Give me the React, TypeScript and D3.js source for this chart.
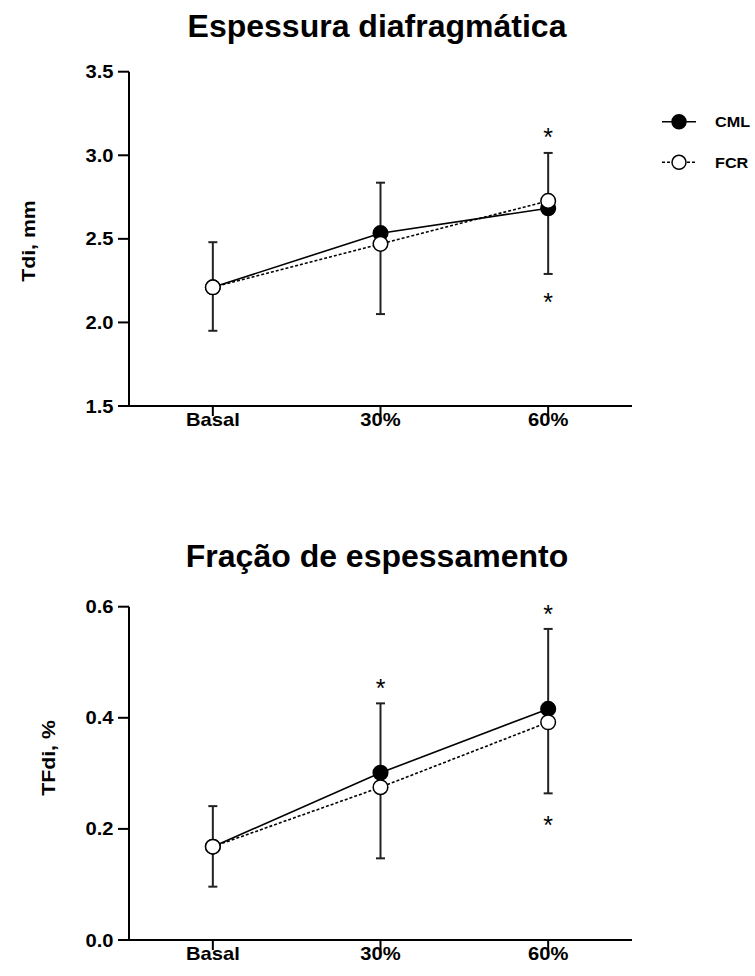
import React from "react";
import * as d3 from "d3";

const categories = ["Basal", "30%", "60%"];

// Top panel: Espessura diafragmática (Tdi, mm)
const tdiCML = [2.21, 2.534, 2.683];
const tdiFCR = [2.21, 2.47, 2.727];
const tdiCMLUpper = [2.48, 2.836, 3.014];
const tdiFCRLower = [1.95, 2.05, 2.29];
const tdiTicks = [1.5, 2.0, 2.5, 3.0, 3.5];
const tdiStars = [
  { cat: "60%", value: 3.141 },
  { cat: "60%", value: 2.151 },
];

// Bottom panel: Fração de espessamento (TFdi, %)
const tfCML = [0.168, 0.301, 0.416];
const tfFCR = [0.168, 0.275, 0.392];
const tfCMLUpper = [0.241, 0.426, 0.56];
const tfFCRLower = [0.096, 0.147, 0.264];
const tfTicks = [0.0, 0.2, 0.4, 0.6];
const tfStars = [
  { cat: "30%", value: 0.463 },
  { cat: "60%", value: 0.597 },
  { cat: "60%", value: 0.217 },
];

const seriesNames = ["CML", "FCR"];

const FONT = "'Liberation Sans', Arial, Helvetica, sans-serif";
const SX = 1.12; // horizontal stretch of tick labels

type PanelProps = {
  title: string;
  titleY: number;
  yLabel: string;
  yLabelX: number;
  yLabelY: number;
  domain: [number, number];
  yRange: [number, number];
  ticks: number[];
  tickFmt: (v: number) => string;
  cml: number[];
  fcr: number[];
  cmlUpper: number[];
  fcrLower: number[];
  stars: { cat: string; value: number }[];
};

function Panel(p: PanelProps) {
  const x = d3.scalePoint<string>().domain(categories).range([129, 632]).padding(0.5);
  const y = d3.scaleLinear().domain(p.domain).range(p.yRange);
  const x0 = 129;
  const x1 = 632;
  const yBottom = p.yRange[0];
  const yTop = p.yRange[1];
  const line = d3
    .line<number>()
    .x((_, i) => x(categories[i]) as number)
    .y((d) => y(d));
  const r = 7.3;
  const starFs = 25;
  return (
    <g>
      <text
        x={377}
        y={p.titleY}
        textAnchor="middle"
        fontFamily={FONT}
        fontWeight="bold"
        fontSize={32}
      >
        {p.title}
      </text>
      <text
        transform={`translate(${p.yLabelX},${p.yLabelY}) rotate(-90) scale(${SX},1)`}
        textAnchor="middle"
        fontFamily={FONT}
        fontWeight="bold"
        fontSize={19}
      >
        {p.yLabel}
      </text>
      {/* axes */}
      <line x1={x0} x2={x0} y1={yTop} y2={yBottom + 1} stroke="#000" strokeWidth={2} />
      <line x1={x0 - 1} x2={x1} y1={yBottom} y2={yBottom} stroke="#000" strokeWidth={2} />
      {p.ticks.map((t) => (
        <g key={t}>
          <line x1={x0 - 11} x2={x0} y1={y(t)} y2={y(t)} stroke="#000" strokeWidth={2} />
          <text
            transform={`translate(113.5,${y(t) + 6.5}) scale(${SX},1)`}
            textAnchor="end"
            fontFamily={FONT}
            fontWeight="bold"
            fontSize={18}
          >
            {p.tickFmt(t)}
          </text>
        </g>
      ))}
      {categories.map((c) => (
        <g key={c}>
          <line
            x1={x(c)}
            x2={x(c)}
            y1={yBottom}
            y2={yBottom + 10}
            stroke="#000"
            strokeWidth={2}
          />
          <text
            transform={`translate(${x(c)},${yBottom + 20}) scale(${SX},1)`}
            textAnchor="middle"
            fontFamily={FONT}
            fontWeight="bold"
            fontSize={18}
          >
            {c}
          </text>
        </g>
      ))}
      {/* lines */}
      <path d={line(p.cml) || ""} fill="none" stroke="#000" strokeWidth={1.6} />
      <path
        d={line(p.fcr) || ""}
        fill="none"
        stroke="#000"
        strokeWidth={1.6}
        strokeDasharray="3,2"
      />
      {/* error bars */}
      {categories.map((c, i) => {
        const cx = x(c) as number;
        const up = y(p.cmlUpper[i]);
        const lo = y(p.fcrLower[i]);
        return (
          <g key={"e" + c} stroke="#222" strokeWidth={2}>
            <line x1={cx} x2={cx} y1={up} y2={y(p.cml[i])} />
            <line x1={cx - 4.5} x2={cx + 4.5} y1={up} y2={up} />
            <line x1={cx} x2={cx} y1={lo} y2={y(p.fcr[i])} />
            <line x1={cx - 4.5} x2={cx + 4.5} y1={lo} y2={lo} />
          </g>
        );
      })}
      {/* points */}
      {categories.map((c, i) => (
        <circle
          key={"c" + c}
          cx={x(c)}
          cy={y(p.cml[i])}
          r={r}
          fill="#000"
          stroke="#000"
          strokeWidth={1.5}
        />
      ))}
      {categories.map((c, i) => (
        <circle
          key={"f" + c}
          cx={x(c)}
          cy={y(p.fcr[i])}
          r={r}
          fill="#fff"
          stroke="#000"
          strokeWidth={1.5}
        />
      ))}
      {p.stars.map((s, i) => (
        <text
          key={"s" + i}
          x={x(s.cat)}
          y={y(s.value) + 0.57 * starFs}
          textAnchor="middle"
          fontFamily={FONT}
          fontSize={starFs}
        >
          *
        </text>
      ))}
    </g>
  );
}

function Legend() {
  const rows = [
    { name: seriesNames[0], y: 121.7, fill: "#000", dash: undefined as string | undefined },
    { name: seriesNames[1], y: 162.3, fill: "#fff", dash: "3,2" },
  ];
  return (
    <g>
      {rows.map((r) => (
        <g key={r.name}>
          <line
            x1={662}
            x2={696}
            y1={r.y}
            y2={r.y}
            stroke="#000"
            strokeWidth={1.6}
            strokeDasharray={r.dash}
          />
          <circle cx={679} cy={r.y} r={7} fill={r.fill} stroke="#000" strokeWidth={1.5} />
          <text
            transform={`translate(715,${r.y + 5.4}) scale(1.08,1)`}
            fontFamily={FONT}
            fontWeight="bold"
            fontSize={15}
          >
            {r.name}
          </text>
        </g>
      ))}
    </g>
  );
}

export default function App() {
  return (
    <svg
      width={755}
      height={976}
      viewBox="0 0 755 976"
      style={{ position: "absolute", left: 0, top: 0, background: "#fff" }}
    >
      <rect width={755} height={976} fill="#fff" />
      <Panel
        title="Espessura diafragmática"
        titleY={37}
        yLabel="Tdi, mm"
        yLabelX={35}
        yLabelY={241}
        domain={[1.5, 3.5]}
        yRange={[406, 71.7]}
        ticks={tdiTicks}
        tickFmt={(v) => d3.format(".1f")(v)}
        cml={tdiCML}
        fcr={tdiFCR}
        cmlUpper={tdiCMLUpper}
        fcrLower={tdiFCRLower}
        stars={tdiStars}
      />
      <Panel
        title="Fração de espessamento"
        titleY={567}
        yLabel="TFdi, %"
        yLabelX={55}
        yLabelY={758}
        domain={[0, 0.6]}
        yRange={[940, 606.7]}
        ticks={tfTicks}
        tickFmt={(v) => d3.format(".1f")(v)}
        cml={tfCML}
        fcr={tfFCR}
        cmlUpper={tfCMLUpper}
        fcrLower={tfFCRLower}
        stars={tfStars}
      />
      <Legend />
    </svg>
  );
}
